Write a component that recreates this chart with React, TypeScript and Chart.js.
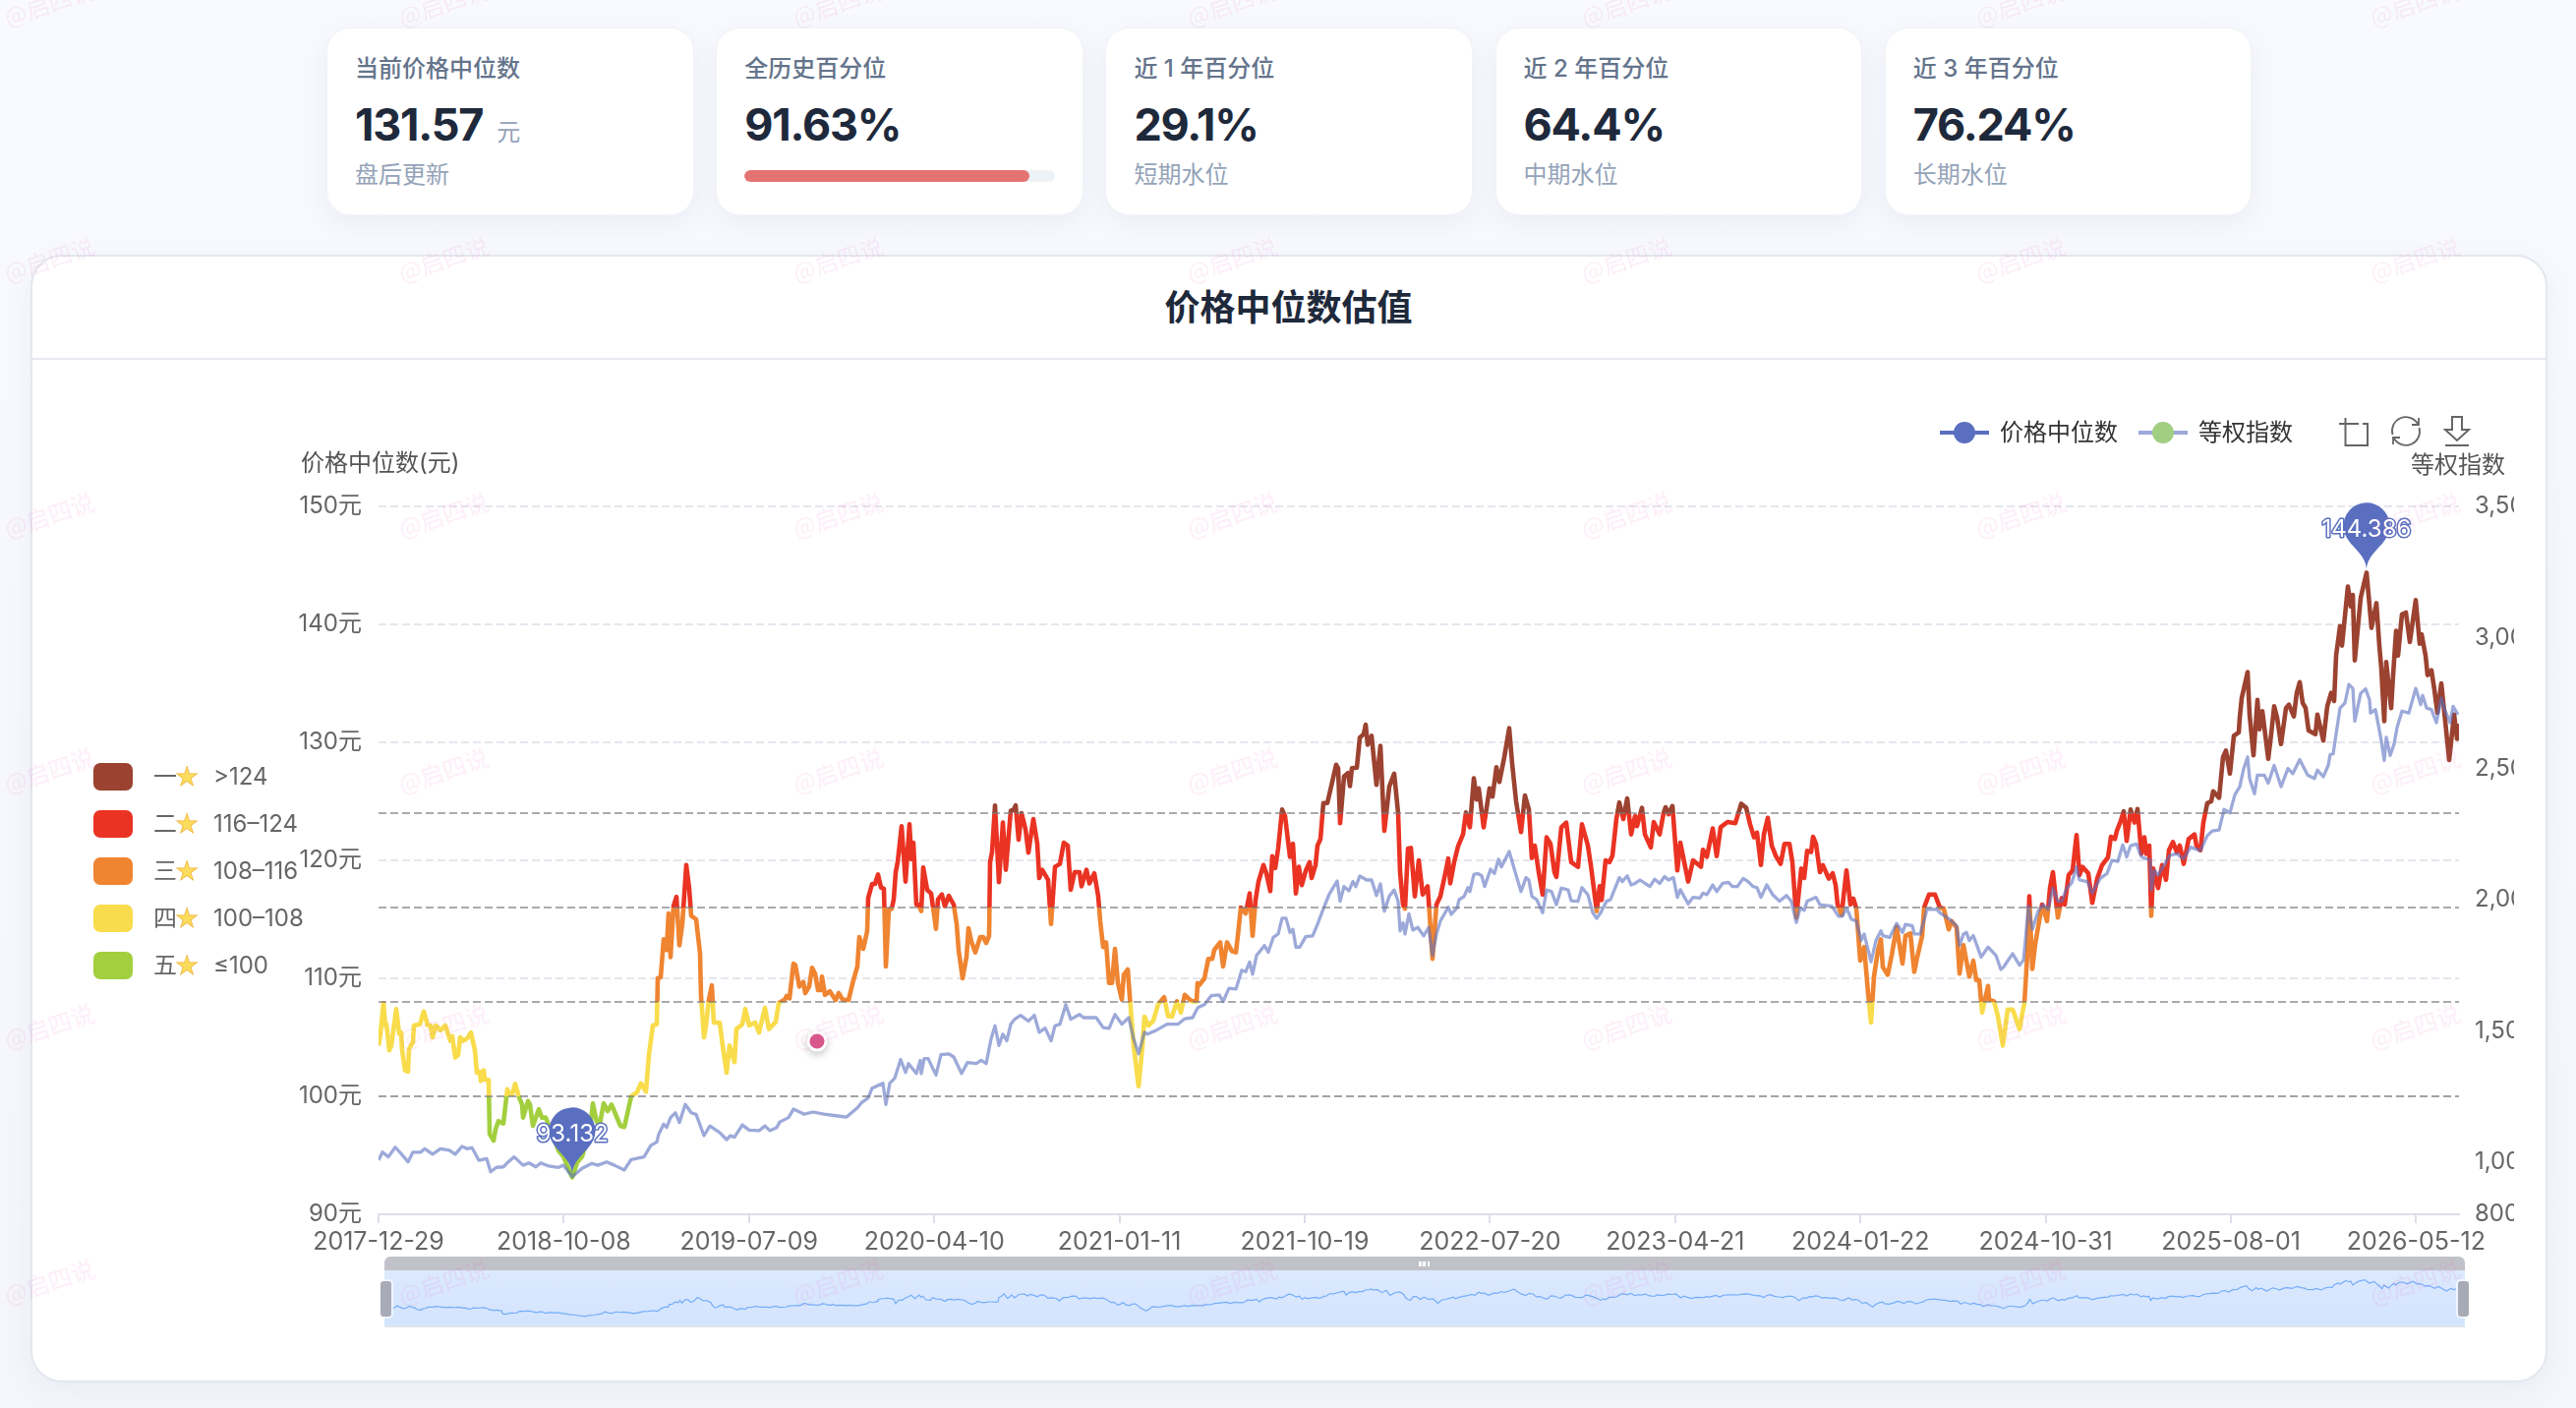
import React, { useEffect, useRef } from "react";
import { Chart, registerables } from "chart.js";

Chart.register(...registerables);

const FONT = 'Inter, "Noto Sans CJK SC", sans-serif';

const xTickLabels = ["2017-12-29", "2018-10-08", "2019-07-09", "2020-04-10", "2021-01-11", "2021-10-19", "2022-07-20", "2023-04-21", "2024-01-22", "2024-10-31", "2025-08-01", "2026-05-12"];
const sessionsPerTick = 188.4;
const sessionCount = 2116;
const priceTicks = [90, 100, 110, 120, 130, 140, 150];
const indexTicks = [800, 1000, 1500, 2000, 2500, 3000, 3500];
const bandLimits = [124, 116, 108, 100];
const bandColors = ["#9c4230", "#ea3323", "#ef8431", "#f8dc4b", "#a3cf3e"];
const bandNames = ["一", "二", "三", "四", "五"];
const bandLabels = [">124", "116–124", "108–116", "100–108", "≤100"];
const pinkMarker: [number, number] = [446, 104.67];

const cards = [
  { title: "当前价格中位数", value: "131.57", unit: "元", sub: "盘后更新" },
  { title: "全历史百分位", value: "91.63%", bar: 91.63 },
  { title: "近 1 年百分位", value: "29.1%", sub: "短期水位" },
  { title: "近 2 年百分位", value: "64.4%", sub: "中期水位" },
  { title: "近 3 年百分位", value: "76.24%", sub: "长期水位" },
];

// [trading session, 价格中位数]
const priceSeries: [number, number][] = [
  [0,104.3],[2,105.3],[5,107.9],[7,106.0],[8,106.1],[11,103.9],[13,104.3],[18,107.4],[21,105.3],[23,105.4],[24,103.9],[27,102.2],[30,102.1],[31,104.0],[35,104.6],[36,106.0],[42,106.1],[46,107.2],[50,106.0],[53,106.0],[55,105.0],[58,106.0],[63,105.6],[68,106.0],[73,104.7],[75,105.1],[78,103.3],[81,103.5],[83,105.0],[86,104.7],[90,104.9],[94,105.4],[98,103.9],[100,102.0],[103,102.1],[104,101.3],[107,102.2],[108,101.4],[112,101.4],[113,96.8],[117,96.25],[119,97.2],[122,97.9],[127,97.7],[131,100.6],[133,100.2],[136,100.2],[139,101.05],[143,99.9],[146,99.3],[147,98.2],[152,99.6],[154,99.3],[157,97.5],[160,98.2],[163,98.9],[166,98.2],[170,98.2],[173,97.6],[177,96.8],[183,95.4],[188,94.9],[197,93.132],[202,94.4],[207,94.9],[212,96.25],[215,97.1],[218,99.4],[222,97.8],[225,97.65],[229,99.4],[233,98.75],[237,99.3],[241,98.5],[246,97.5],[250,97.4],[253,98.5],[257,100.0],[263,100.35],[267,101.1],[272,100.4],[275,103.5],[279,106.0],[283,106.1],[284,110.0],[287,110.1],[290,113.3],[293,112.4],[295,115.5],[297,111.8],[300,116.1],[303,116.9],[306,112.8],[309,114.6],[313,119.6],[316,117.6],[318,115.3],[323,115.0],[327,112.1],[328,108.5],[331,105.0],[333,106.0],[336,108.2],[339,109.4],[341,106.25],[347,106.25],[350,104.3],[354,102.0],[357,104.3],[362,102.9],[364,105.7],[370,106.1],[373,107.4],[377,106.0],[383,106.25],[387,105.4],[393,107.5],[397,105.7],[404,106.3],[407,107.9],[413,108.2],
  [415,108.5],[418,108.3],[422,111.25],[424,111.1],[428,109.3],[432,109.7],[434,108.75],[438,109.3],[441,110.9],[444,110.4],[447,109.0],[450,109.0],[451,110.15],[454,108.6],[459,108.9],[465,108.15],[468,108.75],[472,108.2],[478,108.15],[483,109.85],[487,111.0],[489,113.5],[493,112.5],[497,114.0],[498,116.8],[502,118.0],[505,118.0],[508,118.8],[511,117.7],[514,117.6],[516,111.0],[519,115.8],[522,115.9],[524,116.7],[526,119.0],[528,119.85],[532,122.9],[536,118.2],[540,123.05],[542,120.1],[544,121.5],[547,116.25],[549,116.25],[552,115.7],[554,119.4],[558,117.5],[562,117.2],[567,114.2],[569,116.7],[573,117.1],[576,116.1],[580,117.0],[585,116.25],[588,114.6],[590,112.4],[594,110.0],[598,111.8],[600,114.25],[603,113.1],[607,112.2],[612,113.5],[615,113.5],[618,113.0],[621,113.6],[622,119.85],[624,120.7],[627,124.65],[631,118.15],[635,123.2],[638,119.2],[643,124.2],[646,124.3],[648,124.65],[651,121.75],[654,124.0],[658,122.65],[661,120.65],[666,123.5],[670,121.4],[672,118.5],[675,119.2],[681,118.35],[684,114.6],[688,119.45],[693,119.7],[697,121.5],[701,121.25],[704,117.5],[708,119.0],[713,119.0],[715,117.8],[720,119.2],[723,118.05],[728,118.9],[732,116.95],[734,114.85],[737,112.65],[740,113.05],[743,109.6],[746,109.6],[749,112.5],[752,109.6],[756,108.2],[758,110.3],[762,110.75],[764,108.5],[768,104.3],[773,100.85],[777,104.3],[779,106.75],[783,106.0],[788,106.4],[793,107.8],[799,108.4],[803,106.8],[807,106.75],[812,108.05],[816,107.1],[820,108.6],[827,108.05],[832,108.05],[833,109.6],
  [835,109.45],[840,110.0],[844,111.65],[848,111.65],[850,112.4],[856,113.05],[859,111.0],[863,113.05],[868,112.3],[872,112.2],[874,113.6],[877,116.0],[882,115.5],[886,117.2],[889,113.6],[892,116.65],[895,118.2],[900,119.6],[903,118.9],[907,117.4],[909,120.35],[912,119.35],[915,121.0],[919,124.3],[922,123.75],[927,120.3],[930,121.4],[933,117.2],[936,119.45],[939,117.9],[943,119.1],[947,119.85],[949,118.5],[953,119.6],[955,121.25],[958,121.8],[961,124.85],[965,124.85],[970,126.65],[974,128.1],[976,127.8],[978,123.15],[982,127.1],[986,127.4],[988,126.3],[990,127.8],[995,127.85],[998,130.4],[1002,130.7],[1004,131.5],[1006,129.8],[1010,130.55],[1015,126.4],[1019,129.7],[1023,122.5],[1028,126.25],[1033,127.35],[1037,124.0],[1039,119.0],[1042,116.25],[1044,115.9],[1047,121.0],[1050,121.05],[1054,116.95],[1058,120.0],[1062,117.1],[1067,117.8],[1068,116.65],[1072,111.65],[1076,116.25],[1080,116.95],[1086,119.3],[1088,120.15],[1090,118.05],[1094,119.85],[1098,121.2],[1103,122.2],[1106,124.05],[1110,122.8],[1114,126.95],[1117,125.15],[1119,126.1],[1124,122.8],[1130,126.1],[1133,125.4],[1137,127.9],[1140,126.65],[1145,128.75],[1150,131.2],[1153,128.2],[1157,125.0],[1162,122.4],[1166,125.5],[1170,124.3],[1173,120.2],[1176,121.25],[1180,119.0],[1184,117.1],[1188,121.95],[1192,121.4],[1196,119.0],[1198,118.6],[1203,122.8],[1208,123.2],[1213,119.85],[1220,119.45],[1224,123.05],[1230,121.25],[1233,119.6],[1239,115.7],[1242,117.8],[1244,116.65],[1248,120.0],[1252,119.85],
  [1255,120.4],[1259,123.5],[1262,124.9],[1266,123.5],[1270,125.25],[1274,122.2],[1278,123.75],[1280,122.9],[1285,124.45],[1288,122.2],[1294,121.1],[1297,123.25],[1303,122.2],[1307,124.0],[1309,124.5],[1312,123.9],[1316,124.6],[1321,119.15],[1324,121.5],[1328,119.85],[1332,118.2],[1337,120.0],[1345,119.45],[1347,120.9],[1351,120.3],[1357,122.7],[1361,120.35],[1365,122.8],[1372,123.25],[1380,123.15],[1386,124.8],[1391,124.45],[1395,123.05],[1399,121.95],[1402,122.35],[1406,119.6],[1409,122.2],[1413,123.6],[1417,121.25],[1421,120.4],[1426,119.7],[1430,121.4],[1435,121.4],[1438,119.85],[1442,115.15],[1447,119.3],[1450,118.5],[1453,120.8],[1457,120.7],[1459,122.0],[1462,121.4],[1466,119.0],[1469,119.6],[1475,118.45],[1479,118.9],[1482,117.9],[1484,116.25],[1488,115.4],[1493,119.15],[1497,116.25],[1500,116.75],[1503,115.95],[1507,111.5],[1511,112.65],[1515,108.75],[1518,106.25],[1521,110.15],[1525,112.35],[1528,113.3],[1530,110.95],[1535,110.3],[1539,111.95],[1544,114.35],[1550,111.25],[1553,113.6],[1558,113.8],[1562,110.55],[1565,111.8],[1570,113.6],[1572,116.0],[1577,117.1],[1583,117.1],[1588,116.0],[1592,115.9],[1597,114.15],[1600,114.85],[1605,114.3],[1608,110.4],[1612,112.8],[1618,110.15],[1622,111.5],[1625,109.85],[1628,109.85],[1631,107.1],[1637,109.35],[1638,108.2],[1643,108.05],[1647,106.8],[1652,104.3],[1657,107.35],[1662,107.35],[1669,105.7],[1672,107.1],
  [1674,107.9],[1677,112.1],[1679,116.95],[1682,110.8],[1685,112.9],[1689,114.85],[1692,116.25],[1697,114.85],[1700,117.65],[1703,119.0],[1708,115.15],[1712,116.8],[1715,116.25],[1719,118.75],[1723,119.15],[1727,122.15],[1730,118.75],[1733,119.45],[1739,118.9],[1743,116.4],[1748,118.45],[1753,119.6],[1759,120.25],[1762,122.0],[1766,121.8],[1768,122.5],[1772,123.35],[1775,124.15],[1778,121.65],[1782,124.3],[1786,123.2],[1789,124.35],[1793,120.55],[1796,121.95],[1798,120.55],[1801,121.25],[1803,115.3],[1805,119.3],[1810,117.65],[1814,119.6],[1818,118.35],[1821,120.85],[1825,121.55],[1829,120.7],[1832,121.25],[1836,119.7],[1841,121.8],[1847,122.2],[1849,121.25],[1853,120.85],[1856,123.2],[1860,124.85],[1864,125.0],[1866,125.85],[1872,125.3],[1876,128.75],[1879,129.3],[1883,127.35],[1887,130.55],[1892,130.85],[1893,132.1],[1895,133.75],[1901,135.95],[1903,132.35],[1907,128.9],[1911,133.6],[1913,131.1],[1916,132.65],[1922,128.6],[1925,130.7],[1928,133.05],[1931,132.1],[1935,129.85],[1940,132.9],[1943,133.2],[1948,132.2],[1951,134.2],[1954,135.1],[1957,133.35],[1960,132.9],[1963,131.0],[1970,130.7],[1972,132.35],[1978,130.15],[1982,133.05],[1986,134.2],[1989,133.5],[1991,137.35],[1995,139.85],[1997,138.2],[2003,143.2],[2006,141.5],[2008,142.5],[2010,136.95],[2016,142.25],[2022,144.386],[2027,139.7],[2032,141.8],[2035,138.2],[2037,136.25],[2040,131.8],[2042,136.8],[2047,132.9],[2049,135.7],[2052,139.45],[2054,137.35],[2058,140.85],[2062,141.0],[2066,138.5],[2072,142.05],[2076,138.35],[2078,139.15],[2082,137.35],[2084,135.7],[2088,136.1],[2091,134.45],[2094,132.5],[2098,135.0],[2102,131.8],[2106,128.5],[2111,132.35],[2114,130.3],[2116,131.57],
];

// [trading session, 等权指数]
const indexSeries: [number, number][] = [
  [0,1006],[4,1037],[10,1019],[17,1056],[23,1031],[30,1000],[35,1037],[43,1037],[47,1050],[55,1029],[63,1050],[72,1044],[78,1029],[85,1059],[90,1050],[95,1054],[102,1006],[110,1012],[114,962],[120,979],[127,981],[132,1000],[138,1019],[147,987],[153,996],[160,981],[165,996],[173,984],[183,979],[188,987],[197,944],[203,962],[207,975],[217,994],[223,987],[232,1000],[240,987],[250,969],[257,1009],[270,1019],[277,1063],[283,1075],[285,1106],[290,1144],[293,1131],[297,1169],[302,1187],[306,1150],[312,1219],[318,1187],[323,1181],[331,1100],[337,1137],[347,1112],[354,1085],[358,1100],[362,1094],[370,1141],[377,1121],[387,1119],[393,1137],[398,1119],[405,1131],[408,1152],[417,1169],
  [422,1201],[433,1182],[442,1190],[453,1182],[467,1175],[476,1171],[487,1206],[491,1225],[498,1244],[502,1281],[513,1300],[516,1219],[520,1300],[525,1319],[531,1390],[536,1341],[539,1375],[547,1337],[551,1387],[552,1337],[555,1394],[559,1394],[567,1331],[572,1409],[580,1412],[585,1400],[593,1337],[599,1379],[608,1375],[613,1387],[618,1375],[623,1469],[627,1519],[631,1444],[635,1487],[639,1462],[643,1525],[647,1544],[653,1559],[661,1537],[667,1559],[672,1494],[678,1510],[684,1462],[688,1519],[693,1525],[699,1600],[704,1544],[713,1562],[717,1550],[730,1550],[737,1512],[743,1509],[749,1562],[756,1525],[763,1550],[768,1469],[773,1412],[779,1494],[782,1487],[790,1500],[802,1525],[813,1525],[820,1546],[828,1550],[833,1587],
  [835,1591],[840,1600],[847,1634],[855,1637],[859,1612],[865,1662],[872,1659],[878,1731],[882,1725],[886,1762],[889,1716],[893,1787],[901,1825],[905,1800],[910,1856],[915,1869],[919,1929],[923,1929],[927,1875],[930,1887],[933,1819],[937,1819],[943,1859],[950,1862],[955,1906],[962,1975],[967,2021],[975,2071],[978,1994],[982,2050],[987,2034],[991,2069],[994,2050],[998,2090],[1005,2075],[1010,2075],[1015,2016],[1019,2060],[1023,1956],[1028,2013],[1033,2037],[1037,1994],[1039,1881],[1042,1912],[1044,1869],[1048,1946],[1052,1884],[1057,1894],[1063,1862],[1068,1894],[1072,1788],[1076,1869],[1080,1919],[1088,1971],[1091,1944],[1097,1969],[1099,2000],[1104,2012],[1108,2046],[1110,2031],[1114,2096],[1118,2100],[1122,2091],[1125,2050],[1131,2116],[1135,2100],[1139,2154],[1142,2125],[1150,2184],[1154,2131],[1158,2081],[1162,2031],[1167,2084],[1170,2075],[1173,2013],[1178,2000],[1184,1950],[1188,2037],[1193,2031],[1198,1981],[1203,2044],[1210,2037],[1213,1996],[1220,1994],[1224,2046],[1230,2019],[1235,1950],[1239,1929],[1243,1950],[1249,1994],[1253,2000],
  [1255,2019],[1262,2084],[1265,2069],[1270,2091],[1274,2056],[1278,2062],[1283,2075],[1293,2050],[1298,2078],[1303,2062],[1308,2088],[1312,2075],[1317,2084],[1321,2009],[1324,2038],[1332,1984],[1337,2009],[1344,2006],[1347,2025],[1351,2019],[1357,2056],[1361,2031],[1367,2062],[1373,2066],[1377,2050],[1382,2050],[1388,2081],[1393,2069],[1398,2050],[1402,2046],[1406,2009],[1412,2056],[1418,2019],[1425,1994],[1432,2016],[1437,1994],[1442,1913],[1446,1969],[1450,1959],[1453,1994],[1462,2009],[1466,1981],[1478,1975],[1485,1937],[1489,1937],[1493,1969],[1498,1925],[1503,1919],[1508,1844],[1511,1869],[1518,1763],[1523,1844],[1528,1881],[1530,1863],[1537,1856],[1544,1909],[1550,1875],[1553,1906],[1560,1900],[1562,1869],[1568,1869],[1575,1963],[1585,1963],[1588,1950],[1598,1925],[1605,1900],[1608,1825],[1612,1869],[1615,1875],[1618,1844],[1622,1863],[1630,1781],[1637,1819],[1645,1788],[1650,1734],[1653,1744],[1662,1794],[1669,1750],[1673,1769],
  [1675,1844],[1678,1975],[1682,1887],[1688,1956],[1693,1981],[1698,1962],[1703,2044],[1708,1994],[1712,1994],[1717,2044],[1722,2063],[1727,2125],[1730,2075],[1738,2069],[1743,2025],[1751,2081],[1758,2100],[1763,2150],[1769,2146],[1774,2209],[1778,2163],[1782,2206],[1788,2212],[1793,2163],[1802,2150],[1803,2037],[1806,2112],[1810,2094],[1815,2125],[1822,2169],[1829,2175],[1836,2156],[1843,2200],[1853,2187],[1860,2244],[1865,2262],[1872,2266],[1877,2344],[1883,2331],[1888,2400],[1893,2431],[1897,2500],[1901,2544],[1903,2462],[1908,2404],[1911,2475],[1918,2475],[1922,2444],[1928,2512],[1935,2431],[1942,2500],[1947,2481],[1954,2534],[1962,2475],[1969,2462],[1972,2494],[1978,2469],[1983,2512],[1985,2554],[1988,2556],[1992,2656],[1995,2731],[2000,2750],[2004,2821],[2008,2806],[2010,2681],[2016,2787],[2021,2804],[2025,2762],[2026,2712],[2031,2725],[2037,2606],[2040,2531],[2042,2619],[2046,2550],[2050,2594],[2053,2656],[2058,2719],[2065,2712],[2072,2806],[2077,2744],[2079,2779],[2083,2731],[2088,2725],[2093,2675],[2098,2769],[2102,2719],[2107,2675],[2110,2737],[2115,2706],
];

const toXY = (s: [number, number][]) => s.map(([x, y]) => ({ x, y }));

function drawPin(ctx: CanvasRenderingContext2D, x: number, y: number, label: string) {
  const w = 47, h = 79;
  const r = w / 2;
  const dy = (r * r) / (h - r);
  const cy = y - h + r + dy;
  const angle = Math.asin(dy / r);
  const dx = Math.cos(angle) * r;
  const tanX = Math.sin(angle), tanY = Math.cos(angle);
  const cp = r * 0.6, cp2 = r * 0.7;
  ctx.save();
  ctx.fillStyle = "#5a6fc0";
  ctx.beginPath();
  ctx.moveTo(x - dx, cy + dy);
  ctx.arc(x, cy, r, Math.PI - angle, Math.PI * 2 + angle);
  ctx.bezierCurveTo(x + dx - tanX * cp, cy + dy + tanY * cp, x, y - cp2, x, y);
  ctx.bezierCurveTo(x, y - cp2, x - dx + tanX * cp, cy + dy + tanY * cp, x - dx, cy + dy);
  ctx.closePath();
  ctx.fill();
  ctx.font = `24px ${FONT}`;
  ctx.textAlign = "center";
  ctx.textBaseline = "middle";
  ctx.lineWidth = 3;
  ctx.lineJoin = "round";
  ctx.strokeStyle = "#5a6fc0";
  ctx.strokeText(label, x, y - 42);
  ctx.fillStyle = "#fff";
  ctx.fillText(label, x, y - 42);
  ctx.restore();
}

const overlayPlugin = {
  id: "overlay",
  beforeDatasetDraw(chart: any, args: any) {
    if (args.index === 2) {
      chart.ctx.save();
      chart.ctx.shadowColor = "rgba(0,0,0,0.2)";
      chart.ctx.shadowBlur = 8;
      chart.ctx.shadowOffsetY = 3;
    }
  },
  afterDatasetDraw(chart: any, args: any) {
    if (args.index === 2) chart.ctx.restore();
    if (args.index === 1) {
      const xs = chart.scales.x, ys = chart.scales.y;
      const values = priceSeries.map((p) => p[1]);
      [Math.min(...values), Math.max(...values)].forEach((v) => {
        const pt = priceSeries[values.indexOf(v)];
        drawPin(chart.ctx, xs.getPixelForValue(pt[0]), ys.getPixelForValue(pt[1]) - 2, String(v));
      });
    }
  },
  afterDatasetsDraw(chart: any) {
    const { ctx, chartArea, scales } = chart;
    ctx.save();
    ctx.strokeStyle = "rgba(120,120,124,0.62)";
    ctx.lineWidth = 2;
    ctx.setLineDash([8, 4]);
    bandLimits.forEach((v) => {
      const y = Math.round(scales.y.getPixelForValue(v));
      ctx.beginPath();
      ctx.moveTo(chartArea.left, y);
      ctx.lineTo(chartArea.right, y);
      ctx.stroke();
    });
    ctx.restore();
  },
  afterDraw(chart: any) {
    const { ctx, chartArea } = chart;
    ctx.save();
    ctx.font = `24px ${FONT}`;
    ctx.fillStyle = "#555";
    ctx.textBaseline = "middle";
    ctx.textAlign = "left";
    ctx.fillText("价格中位数(元)", 306 - 40, chartArea.top - 43);
    ctx.textAlign = "right";
    ctx.fillText("等权指数", chartArea.right + 47, chartArea.top - 41);
    ctx.restore();
  },
};

function bandGradient(ctx: any) {
  const { chart } = ctx;
  const { chartArea, scales } = chart;
  if (!chartArea) return bandColors[1];
  const top = scales.y.getPixelForValue(150);
  const bottom = scales.y.getPixelForValue(90);
  const g = chart.ctx.createLinearGradient(0, top, 0, bottom);
  const stops = [150, ...bandLimits, 90];
  bandColors.forEach((c, i) => {
    g.addColorStop((150 - stops[i]) / 60, c);
    g.addColorStop((150 - stops[i + 1]) / 60, c);
  });
  return g;
}

function App() {
  const mainRef = useRef<HTMLCanvasElement>(null);
  const sparkRef = useRef<HTMLCanvasElement>(null);

  useEffect(() => {
    const main = new Chart(mainRef.current!, {
      type: "line",
      data: {
        datasets: [
          { label: "等权指数", data: toXY(indexSeries), yAxisID: "y2", order: 1, borderColor: "rgba(90,111,192,0.6)", borderWidth: 3.3, pointRadius: 0, tension: 0, borderJoinStyle: "round" },
          { label: "价格中位数", data: toXY(priceSeries), yAxisID: "y", order: 2, borderColor: bandGradient, borderWidth: 4.6, pointRadius: 0, tension: 0, borderJoinStyle: "round" },
          { label: "marker", data: [{ x: pinkMarker[0], y: pinkMarker[1] }], yAxisID: "y", order: 0, showLine: false, pointRadius: 9, pointBackgroundColor: "#e35d93", pointBorderColor: "#fff", pointBorderWidth: 3 },
        ],
      } as any,
      options: {
        animation: false,
        responsive: false,
        parsing: false,
        normalized: true,
        layout: { padding: { top: 115, left: 0, right: 0, bottom: 0 } },
        plugins: { legend: { display: false }, tooltip: { enabled: false } },
        scales: {
          x: {
            type: "linear",
            min: 0,
            max: sessionCount,
            afterBuildTicks: (s: any) => { s.ticks = xTickLabels.map((_, i) => ({ value: i * sessionsPerTick })); },
            afterFit: (s: any) => { s.height = 165; },
            ticks: {
              autoSkip: false,
              maxRotation: 0,
              padding: 4,
              color: "#666",
              font: { size: 25, family: FONT },
              callback: (_v: any, i: number) => xTickLabels[i],
            },
            grid: { drawOnChartArea: false, drawTicks: true, tickLength: 9, color: "#dcdee9", lineWidth: 2 },
            border: { display: true, color: "#dcdee9", width: 2 },
          },
          y: {
            position: "left",
            min: 90,
            max: 150,
            afterBuildTicks: (s: any) => { s.ticks = priceTicks.map((value) => ({ value })); },
            afterFit: (s: any) => { s.width = 345; },
            ticks: { padding: 17, color: "#666", font: { size: 24, family: FONT }, callback: (v: any) => `${v}元` },
            grid: { drawTicks: false, lineWidth: 2, color: (c: any) => (c.tick.value === 90 ? "rgba(0,0,0,0)" : "#e6e6ee") },
            border: { display: false, dash: [8, 4] },
          },
          y2: {
            position: "right",
            min: 800,
            max: 3500,
            afterBuildTicks: (s: any) => { s.ticks = indexTicks.map((value) => ({ value })); },
            afterFit: (s: any) => { s.width = 56; },
            ticks: { padding: 16, color: "#666", font: { size: 24, family: FONT }, callback: (v: any) => Number(v).toLocaleString("en-US") },
            grid: { display: false, drawTicks: false },
            border: { display: false },
          },
        },
      } as any,
      plugins: [overlayPlugin] as any,
    });

    const spark = new Chart(sparkRef.current!, {
      type: "line",
      data: { datasets: [{ data: toXY(priceSeries), borderColor: "#74adf8", borderWidth: 1.2, pointRadius: 0, tension: 0 }] } as any,
      options: {
        animation: false,
        responsive: false,
        parsing: false,
        plugins: { legend: { display: false }, tooltip: { enabled: false } },
        layout: { padding: 0 },
        scales: {
          x: { type: "linear", display: false, min: 0, max: sessionCount },
          y: { display: false, min: 77.7, max: 159 },
        },
      } as any,
    });

    return () => {
      main.destroy();
      spark.destroy();
    };
  }, []);

  const abs = (left: number, top: number, width: number, height: number, extra: any = {}): any => ({ position: "absolute", left, top, width, height, ...extra });

  const wmCols = [50, 451, 852, 1253, 1654, 2055, 2456];
  const wmRows = [3, 263, 523, 783, 1043, 1303];

  return (
    <div style={{ position: "absolute", left: 0, top: 0, width: 2620, height: 1432, overflow: "hidden", background: "linear-gradient(180deg,#f9faff,#f4f6fb)", fontFamily: FONT }}>
      <style>{"html,body{margin:0;padding:0;overflow:hidden}"}</style>

      {cards.map((c, i) => (
        <div key={c.title} style={abs(332 + i * 396.2, 28, 373.5, 191, { background: "#fff", borderRadius: 24, boxShadow: "0 8px 28px rgba(100,116,139,0.09)", border: "1px solid #f1f3f8", boxSizing: "border-box" })}>
          <div style={abs(28, 25, 330, 32, { fontSize: 24, lineHeight: "32px", fontWeight: 500, color: "#64748b", whiteSpace: "pre" })}>{c.title}</div>
          <div style={abs(28, 68, 340, 60, { fontSize: 45, lineHeight: "60px", fontWeight: 700, letterSpacing: "-1.2px", color: "#1e293b", whiteSpace: "pre" })}>
            {c.value}
            {c.unit ? <span style={{ fontSize: 24, fontWeight: 400, letterSpacing: 0, color: "#94a3b8", marginLeft: 14 }}>{c.unit}</span> : null}
          </div>
          {c.sub ? <div style={abs(28, 133, 330, 32, { fontSize: 24, lineHeight: "32px", color: "#94a3b8" })}>{c.sub}</div> : null}
          {c.bar ? (
            <div style={abs(28, 144, 316, 12, { background: "#edf2f7", borderRadius: 6, overflow: "hidden" })}>
              <div style={{ width: `${c.bar}%`, height: 12, background: "#e57373", borderRadius: 6 }} />
            </div>
          ) : null}
        </div>
      ))}

      <div style={abs(31, 259, 2560, 1147, { background: "#fff", borderRadius: 32, border: "2px solid #e4e7ef", boxSizing: "border-box", boxShadow: "0 8px 28px rgba(100,116,139,0.07)" })} />
      <div style={abs(33, 364, 2556, 2, { background: "#e6e9f0" })} />
      <div style={abs(32, 288, 2557, 50, { textAlign: "center", fontSize: 36, lineHeight: "50px", fontWeight: 600, color: "#1e293b" })}>价格中位数估值</div>

      <canvas ref={mainRef} width={2517} height={1000} style={abs(40, 400, 2517, 1000, { display: "block" })} />

      {/* left piecewise legend */}
      {bandLabels.map((label, i) => (
        <div key={label}>
          <div style={abs(95, 776 + i * 48, 40, 28, { background: bandColors[i], borderRadius: 7 })} />
          <div style={abs(156, 774 + i * 48, 24, 32, { fontSize: 24, lineHeight: "32px", color: "#666" })}>{bandNames[i]}</div>
          <div style={abs(178, 774 + i * 48, 28, 32, { fontSize: 27, lineHeight: "32px", fontFamily: '"DejaVu Sans"', color: "#fcdc5c", WebkitTextStroke: "0.7px #eeb23a" })}>★</div>
          <div style={abs(217, 774 + i * 48, 100, 32, { fontSize: 24, lineHeight: "32px", color: "#666", whiteSpace: "pre" })}>{label}</div>
        </div>
      ))}

      {/* top legend */}
      <div style={abs(1973, 438, 50, 4, { background: "#5a6fc0" })} />
      <div style={abs(1986.5, 429, 22, 22, { background: "#5a6fc0", borderRadius: "50%" })} />
      <div style={abs(2034, 424, 130, 32, { fontSize: 24, lineHeight: "32px", color: "#333" })}>价格中位数</div>
      <div style={abs(2175, 438, 50, 4, { background: "#9ba8d9" })} />
      <div style={abs(2189, 429, 22, 22, { background: "#a0cf82", borderRadius: "50%" })} />
      <div style={abs(2236, 424, 110, 32, { fontSize: 24, lineHeight: "32px", color: "#333" })}>等权指数</div>

      {/* toolbox */}
      <svg style={abs(2370, 418, 150, 42)} viewBox="2370 418 150 42" fill="none" stroke="#666" strokeWidth="2">
        <path d="M2385.5 425V453H2408V431H2403M2379 431H2399" />
        <path d="M2433.5 442A14 14 0 0 1 2459 431M2460 425V432H2453M2460.5 435A14 14 0 0 1 2435 446M2434 452V445H2441" strokeWidth="1.8" />
        <path d="M2494 424H2504V437H2511L2499 448L2487 437H2494ZM2487 453H2511" />
      </svg>

      {/* data-zoom slider */}
      <div style={abs(391, 1278, 2116, 13.5, { background: "#c1c2c9", borderRadius: "6px 6px 0 0" })} />
      {[0, 1, 2].map((i) => (
        <div key={i} style={abs(1443 + i * 4.4, 1283, 2.6, 5, { background: "#fff" })} />
      ))}
      <div style={abs(391, 1291.5, 2116, 58.5, { background: "linear-gradient(180deg,#dce9fe,#d3e4fd)", borderBottom: "2px solid #dfe3ec", boxSizing: "border-box" })} />
      <canvas ref={sparkRef} width={2099} height={59} style={abs(399, 1291, 2099, 59, { display: "block" })} />
      <div style={abs(387, 1303, 11, 36, { background: "#a8aab6", borderRadius: 3, boxShadow: "0 0 0 2px rgba(255,255,255,0.6)" })} />
      <div style={abs(2499.5, 1303, 11, 36, { background: "#a8aab6", borderRadius: 3, boxShadow: "0 0 0 2px rgba(255,255,255,0.6)" })} />

      {/* watermarks */}
      {wmRows.map((y) =>
        wmCols.map((x) => (
          <div key={`${x}-${y}`} style={abs(x - 70, y - 18, 140, 36, { textAlign: "center", fontSize: 24, lineHeight: "36px", color: "rgba(232,78,190,0.1)", transform: "rotate(-18deg)", fontFamily: '"Noto Sans CJK SC", sans-serif', pointerEvents: "none" })}>@启四说</div>
        ))
      )}
    </div>
  );
}

export default App;
